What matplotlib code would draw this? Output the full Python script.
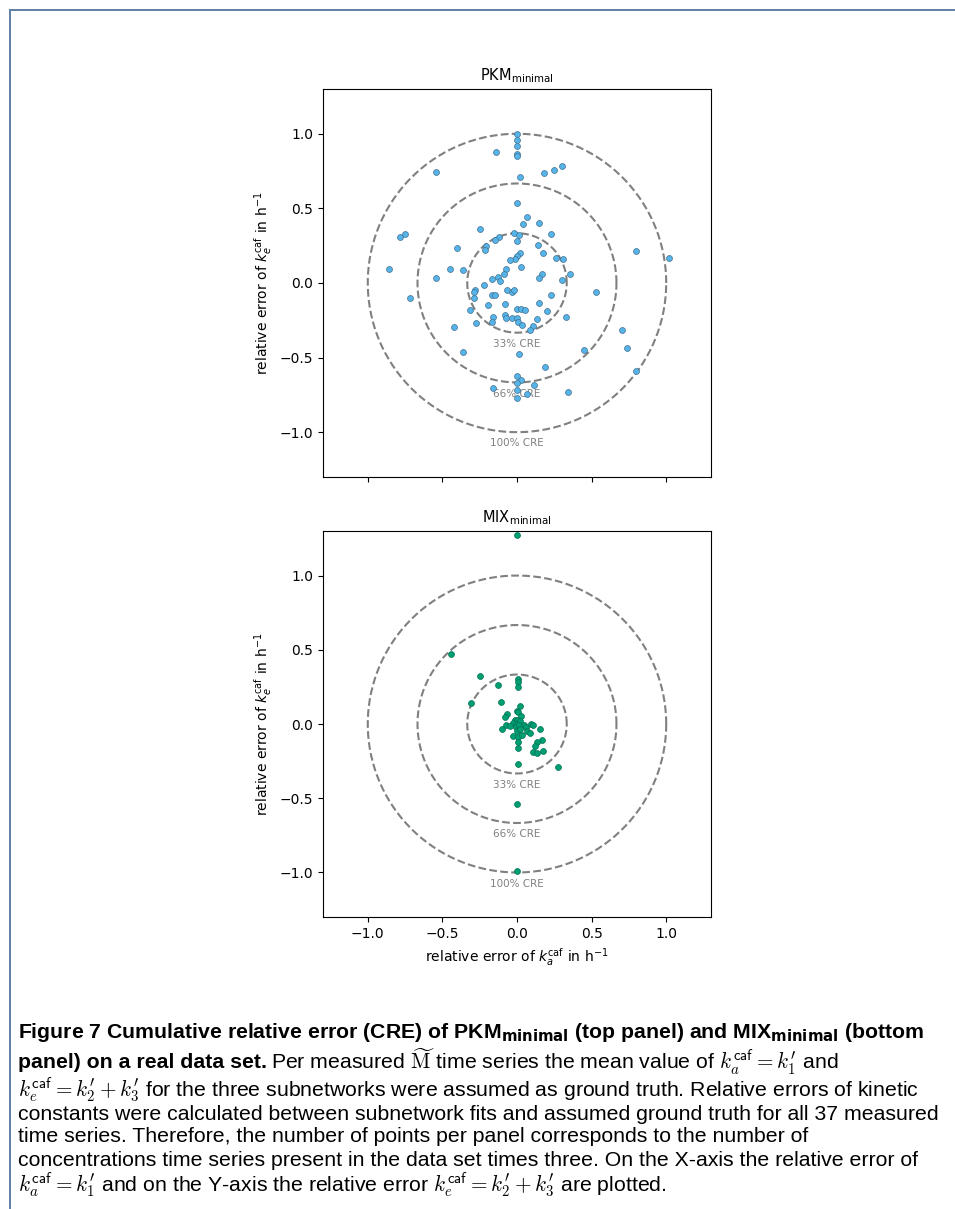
import numpy as np
import matplotlib
matplotlib.use("Agg")
import matplotlib.pyplot as plt
from matplotlib.lines import Line2D

# relative errors (x = k_a, y = k_e)
pkm_x = [0.0, 0.0, 0.0, 0.0, 0.0, -0.14, -0.545, 0.18, 0.245, 0.30, 0.02, 0.0, 0.07, 0.04, 0.145,
         -0.25, -0.785, -0.75, -0.02, 0.015, 0.225, -0.12, -0.15, -0.40, -0.205, -0.215, 0.0, 0.14,
         0.175, 0.26, 0.31, 0.80, 1.02, 0.02, 0.0, -0.015, -0.05, 0.025, -0.855, -0.54, -0.45,
         -0.365, -0.075, -0.085, -0.13, -0.17, -0.115, 0.165, 0.15, 0.355, 0.30, -0.22, -0.28,
         -0.29, -0.07, -0.035, -0.02, 0.225, 0.53, -0.17, -0.15, -0.715, -0.29, -0.195, -0.08,
         0.145, -0.315, 0.0, 0.03, 0.055, 0.20, 0.33, -0.16, -0.08, -0.075, -0.035, 0.0, 0.135,
         -0.17, 0.01, 0.035, 0.11, 0.085, -0.275, -0.425, 0.705, 0.735, 0.45, -0.365, 0.015,
         0.19, 0.795, 0.0, 0.03, 0.0, 0.115, -0.16, 0.0, 0.07, 0.0, 0.345]
pkm_y = [1.0, 0.955, 0.92, 0.864, 0.848, 0.88, 0.743, 0.736, 0.754, 0.781, 0.711, 0.537, 0.441,
         0.396, 0.405, 0.362, 0.311, 0.331, 0.336, 0.322, 0.331, 0.307, 0.291, 0.237, 0.246,
         0.219, 0.282, 0.255, 0.199, 0.168, 0.159, 0.213, 0.168, 0.199, 0.183, 0.163, 0.154,
         0.11, 0.096, 0.034, 0.096, 0.085, 0.092, 0.06, 0.038, 0.025, 0.015, 0.06, 0.034, 0.06,
         0.018, -0.013, -0.047, -0.062, -0.047, -0.058, -0.047, -0.081, -0.062, -0.081, -0.081,
         -0.103, -0.103, -0.145, -0.141, -0.132, -0.179, -0.177, -0.177, -0.183, -0.19, -0.23,
         -0.23, -0.212, -0.235, -0.233, -0.237, -0.242, -0.26, -0.262, -0.28, -0.289, -0.315,
         -0.266, -0.295, -0.317, -0.438, -0.45, -0.463, -0.479, -0.566, -0.589, -0.624, -0.647,
         -0.673, -0.687, -0.703, -0.718, -0.747, -0.772, -0.732]

mix_x = [0.0, -0.44, -0.25, -0.13, 0.005, 0.005, 0.005, -0.305, -0.11, 0.02, 0.0, 0.01, 0.03,
         -0.065, -0.08, -0.01, 0.0, 0.01, -0.02, -0.03, 0.0, 0.02, -0.005, 0.015, -0.10, -0.075,
         -0.05, 0.047, 0.06, 0.094, 0.11, 0.152, 0.0, 0.02, 0.065, 0.085, -0.025, 0.009, 0.032,
         0.005, 0.165, 0.132, 0.12, 0.005, 0.176, 0.11, 0.132, 0.005, 0.273, 0.0, 0.0]
mix_y = [1.275, 0.474, 0.32, 0.266, 0.30, 0.28, 0.246, 0.139, 0.148, 0.123, 0.087, 0.083, 0.056,
         0.067, 0.045, 0.03, 0.03, 0.01, 0.0, 0.01, 0.0, 0.02, -0.02, -0.01, -0.034, -0.007,
         -0.015, -0.007, -0.022, 0.0, -0.007, -0.031, -0.045, -0.034, -0.045, -0.06, -0.083,
         -0.089, -0.074, -0.119, -0.105, -0.123, -0.15, -0.159, -0.181, -0.19, -0.195, -0.27,
         -0.291, -0.537, -0.993]

radii = [1/3, 2/3, 1.0]
cre_labels = ["33% CRE", "66% CRE", "100% CRE"]
ticks = [-1.0, -0.5, 0.0, 0.5, 1.0]

fig = plt.figure(figsize=(9.55, 12.09), dpi=100)
ax1 = fig.add_axes([0.3382, 0.6055, 0.4063, 0.3209])
ax2 = fig.add_axes([0.3382, 0.2415, 0.4063, 0.3193])

t = np.linspace(0, 2*np.pi, 400)
for ax, xs, ys, col, ec, title in [(ax1, pkm_x, pkm_y, "#56B4E9", "#3d6f8f", r"PKM$_{\mathrm{minimal}}$"),
                                   (ax2, mix_x, mix_y, "#009E73", "#00704f", r"MIX$_{\mathrm{minimal}}$")]:
    for r, lab in zip(radii, cre_labels):
        ax.plot(r*np.cos(t), r*np.sin(t), "--", color="gray", lw=1.5, zorder=1)
        ax.text(0, -r - 0.075, lab, ha="center", va="center", fontsize=7.5, color="gray", zorder=1)
    ax.scatter(xs, ys, s=18, color=col, edgecolor=ec, linewidth=0.5, zorder=2)
    ax.set_xlim(-1.3, 1.3)
    ax.set_ylim(-1.3, 1.3)
    ax.set_xticks(ticks)
    ax.set_yticks(ticks)
    ax.set_title(title, fontsize=10.5)
    ax.set_ylabel(r"relative error of $k_e^{\mathrm{caf}}$ in h$^{-1}$")

ax1.tick_params(labelbottom=False)
ax2.set_xlabel(r"relative error of $k_a^{\mathrm{caf}}$ in h$^{-1}$")

# page frame
fig.add_artist(Line2D([9.5/955, 1], [1 - 9.5/1209]*2, color="#5f7fa6", lw=1.4))
fig.add_artist(Line2D([9.5/955]*2, [0, 1 - 9.5/1209], color="#5f7fa6", lw=1.4))

# caption
cap = dict(fontsize=15.3, family="Liberation Sans", math_fontfamily="cm", va="center")
x0 = 18/955
def ypos(py):
    return 1 - py/1209

head = dict(cap, math_fontfamily="dejavusans")
fig.text(x0, ypos(1032), r"Figure 7 Cumulative relative error (CRE) of PKM$_{\mathbf{minimal}}$ (top panel) and MIX$_{\mathbf{minimal}}$ (bottom",
         fontweight="bold", **head)
b = fig.text(x0, ypos(1062), "panel) on a real data set.", fontweight="bold", **cap)
fig.canvas.draw()
bb = b.get_window_extent(fig.canvas.get_renderer())
fig.text(bb.x1/955 + 0.004, ypos(1062),
         r"Per measured $\widetilde{\mathrm{M}}$ time series the mean value of $k_a^{\mathsf{caf}} = k_1'$ and", **cap)
lines = [(1090, r"$k_e^{\mathsf{caf}} = k_2' + k_3'$ for the three subnetworks were assumed as ground truth. Relative errors of kinetic"),
         (1114, "constants were calculated between subnetwork fits and assumed ground truth for all 37 measured"),
         (1137, "time series. Therefore, the number of points per panel corresponds to the number of"),
         (1160, "concentrations time series present in the data set times three. On the X-axis the relative error of"),
         (1185, r"$k_a^{\mathsf{caf}} = k_1'$ and on the Y-axis the relative error $k_e^{\mathsf{caf}} = k_2' + k_3'$ are plotted.")]
for py, s in lines:
    fig.text(x0, ypos(py), s, **cap)

fig.savefig("out.png", dpi=100)
